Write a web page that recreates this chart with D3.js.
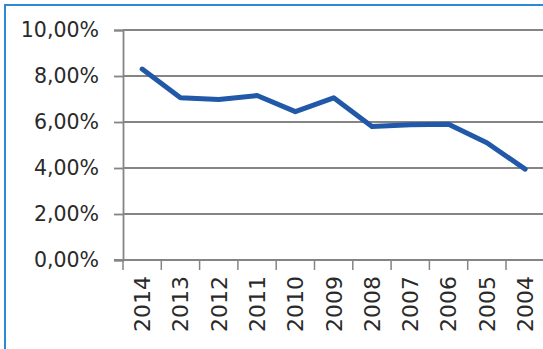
<!DOCTYPE html>
<html>
<head>
<meta charset="utf-8">
<script src="https://cdn.jsdelivr.net/npm/d3@7/dist/d3.min.js"></script>
<style>
  html, body { margin: 0; padding: 0; background: #fff; }
  svg { display: block; }
</style>
</head>
<body>
<script>
// Annual rate, most recent year first
const years = ["2014", "2013", "2012", "2011", "2010", "2009", "2008", "2007", "2006", "2005", "2004"];
const rates = [8.30, 7.05, 6.98, 7.15, 6.45, 7.05, 5.80, 5.88, 5.90, 5.10, 3.95];
const yTicks = [0, 2, 4, 6, 8, 10];

const W = 543, H = 349;
const plotLeft = 123, plotRight = 544.3, plotTop = 30, plotBottom = 260;

const svg = d3.select("body").append("svg")
  .attr("width", W).attr("height", H);

svg.append("rect").attr("width", W).attr("height", H).attr("fill", "#fff");

// Frame around the figure
svg.append("rect")
  .attr("x", 5).attr("y", 5)
  .attr("width", W + 20).attr("height", H + 20)
  .attr("fill", "none")
  .attr("stroke", "#2b8ad6")
  .attr("stroke-width", 2);

const x = d3.scaleBand().domain(years).range([plotLeft, plotRight]).paddingInner(0).paddingOuter(0);
const y = d3.scaleLinear().domain([0, 10]).range([plotBottom, plotTop]);

const locale = d3.formatLocale({ decimal: ",", thousands: ".", grouping: [3], currency: ["", "€"] });
const fmt = locale.format(".2f");

const axisColor = "#858585";
const textColor = "#2a2a2a";

// Horizontal gridlines
svg.append("g")
  .selectAll("line")
  .data(yTicks.filter(d => d > 0))
  .join("line")
  .attr("x1", plotLeft).attr("x2", W)
  .attr("y1", d => y(d)).attr("y2", d => y(d))
  .attr("stroke", axisColor)
  .attr("stroke-width", 1.8);

// Y axis
const yAxis = svg.append("g")
  .attr("transform", `translate(${plotLeft},0)`)
  .call(d3.axisLeft(y).tickValues(yTicks).tickSize(9).tickPadding(15)
    .tickFormat(d => fmt(d) + "%"));
yAxis.select(".domain").attr("stroke", axisColor).attr("stroke-width", 1.8);
yAxis.selectAll(".tick line").attr("stroke", axisColor).attr("stroke-width", 1.8);
yAxis.selectAll(".tick text")
  .attr("fill", textColor)
  .style("font-family", "'DejaVu Sans', sans-serif")
  .style("font-size", "20.5px");

// X axis baseline
svg.append("line")
  .attr("x1", plotLeft - 9).attr("x2", W)
  .attr("y1", plotBottom).attr("y2", plotBottom)
  .attr("stroke", axisColor).attr("stroke-width", 1.8);

// Tick marks between categories
const boundaries = years.map(d => x(d)).concat([plotRight]);
svg.append("g")
  .selectAll("line")
  .data(boundaries)
  .join("line")
  .attr("x1", d => d).attr("x2", d => d)
  .attr("y1", plotBottom).attr("y2", plotBottom + 10)
  .attr("stroke", axisColor).attr("stroke-width", 1.5);

// Category labels, rotated
const xAxis = svg.append("g")
  .attr("transform", `translate(0,${plotBottom})`)
  .call(d3.axisBottom(x).tickSize(0));
xAxis.select(".domain").remove();
xAxis.selectAll(".tick text")
  .attr("fill", textColor)
  .attr("transform", "rotate(-90)")
  .attr("text-anchor", "end")
  .attr("x", -16)
  .attr("y", 0)
  .attr("dy", "0.36em")
  .style("font-family", "'DejaVu Sans', sans-serif")
  .style("font-size", "22px");

// Rate line
const line = d3.line()
  .x((d, i) => x(years[i]) + x.bandwidth() / 2)
  .y(d => y(d));

svg.append("path")
  .datum(rates)
  .attr("d", line)
  .attr("fill", "none")
  .attr("stroke", "#2159a8")
  .attr("stroke-width", 5)
  .attr("stroke-linejoin", "round")
  .attr("stroke-linecap", "round");
</script>
</body>
</html>
